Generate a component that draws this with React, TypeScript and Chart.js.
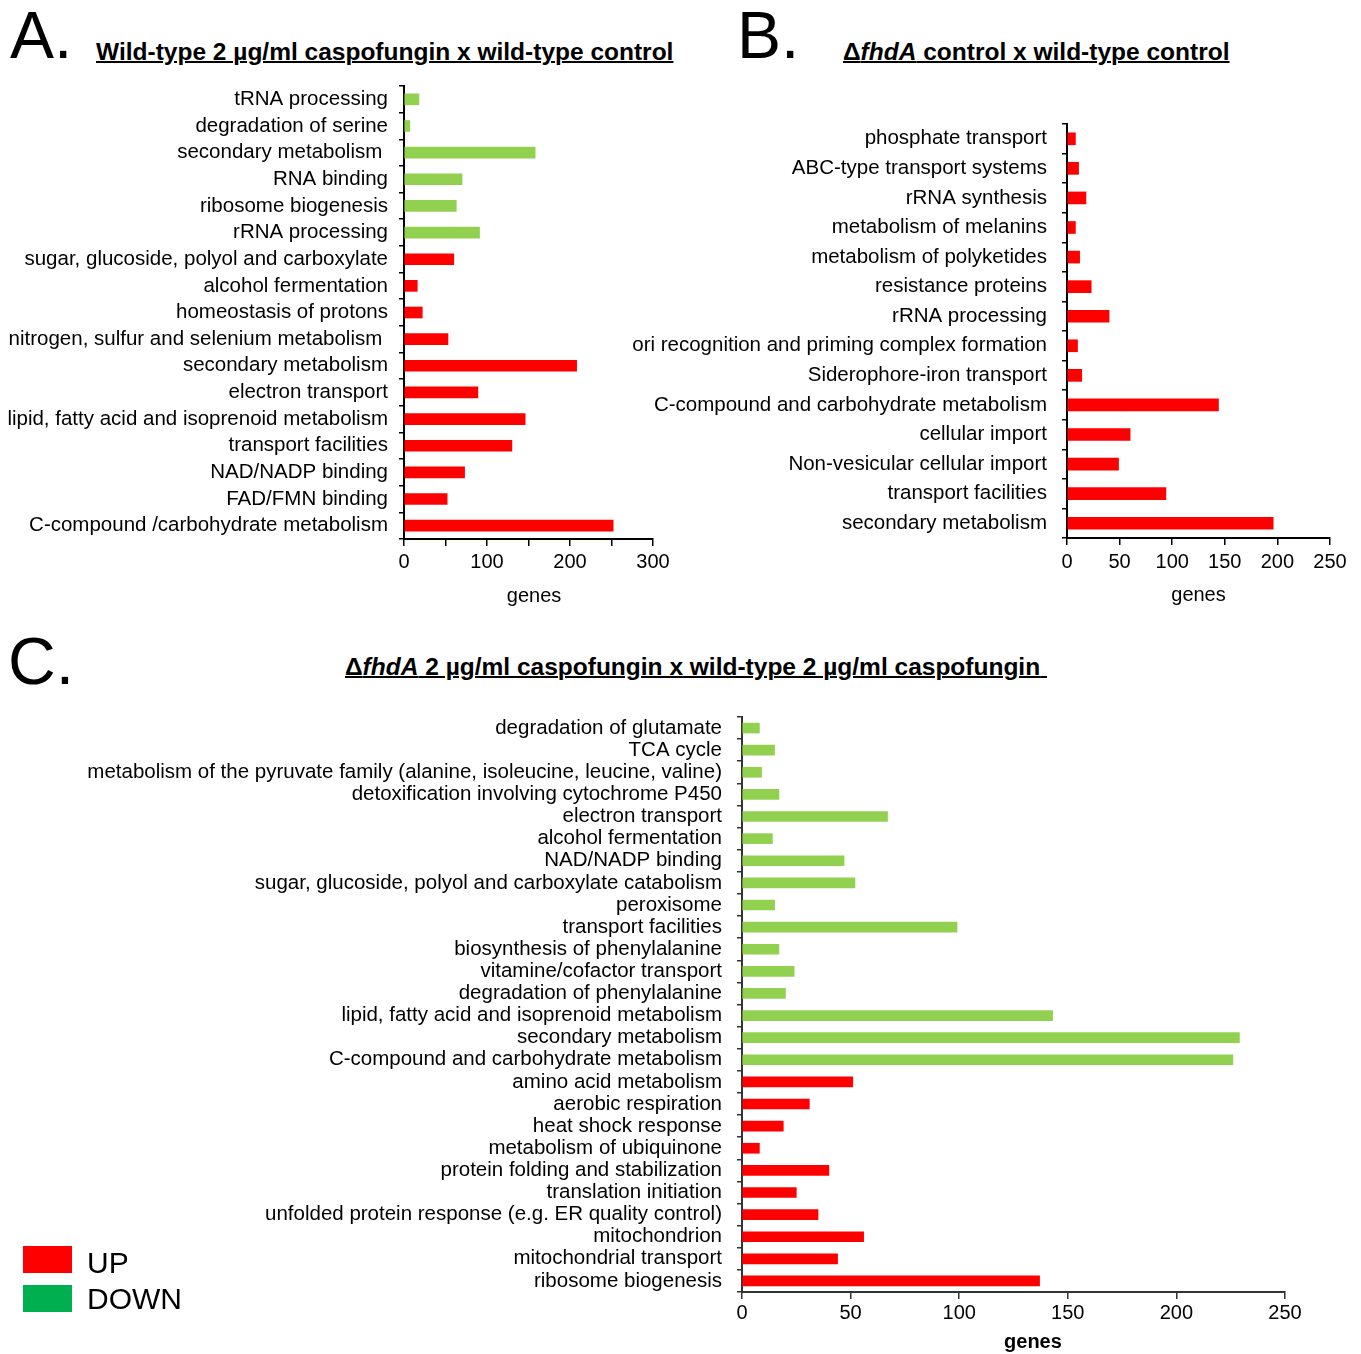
import React, { useEffect, useRef } from "react";
import { Chart, registerables } from "chart.js";

Chart.register(...registerables);

const FONT = "'Liberation Sans', Arial, Helvetica, sans-serif";
const RED = "#ff0000";
const GREEN = "#92d050";
const LEGEND_GREEN = "#00b050";

// ---------- Panel A: Wild-type 2 µg/ml caspofungin x wild-type control ----------
const categoriesA = [
  "tRNA processing",
  "degradation of serine",
  "secondary metabolism ",
  "RNA binding",
  "ribosome biogenesis",
  "rRNA processing",
  "sugar, glucoside, polyol and carboxylate",
  "alcohol fermentation",
  "homeostasis of protons",
  "nitrogen, sulfur and selenium metabolism ",
  "secondary metabolism",
  "electron transport",
  "lipid, fatty acid and isoprenoid metabolism",
  "transport facilities",
  "NAD/NADP binding",
  "FAD/FMN binding",
  "C-compound /carbohydrate metabolism",
];
const valuesA = [18, 7, 158, 70, 63, 91, 60, 16, 22, 53, 208, 89, 146, 130, 73, 52, 252];
const directionA = [
  "down", "down", "down", "down", "down", "down",
  "up", "up", "up", "up", "up", "up", "up", "up", "up", "up", "up",
];
const ticksA = [0, 100, 200, 300];

// ---------- Panel B: ΔfhdA control x wild-type control ----------
const categoriesB = [
  "phosphate transport",
  "ABC-type transport systems",
  "rRNA synthesis",
  "metabolism of melanins",
  "metabolism of polyketides",
  "resistance proteins",
  "rRNA processing",
  "ori recognition and priming complex formation",
  "Siderophore-iron transport",
  "C-compound and carbohydrate metabolism",
  "cellular import",
  "Non-vesicular cellular import",
  "transport facilities",
  "secondary metabolism",
];
const valuesB = [8, 11, 18, 8, 12, 23, 40, 10, 14, 144, 60, 49, 94, 196];
const directionB = [
  "up", "up", "up", "up", "up", "up", "up",
  "up", "up", "up", "up", "up", "up", "up",
];
const ticksB = [0, 50, 100, 150, 200, 250];

// ---------- Panel C: ΔfhdA 2 µg/ml caspofungin x wild-type 2 µg/ml caspofungin ----------
const categoriesC = [
  "degradation of glutamate",
  "TCA cycle",
  "metabolism of the pyruvate family (alanine, isoleucine, leucine, valine)",
  "detoxification involving cytochrome P450",
  "electron transport",
  "alcohol fermentation",
  "NAD/NADP binding",
  "sugar, glucoside, polyol and carboxylate catabolism",
  "peroxisome",
  "transport facilities",
  "biosynthesis of phenylalanine",
  "vitamine/cofactor transport",
  "degradation of phenylalanine",
  "lipid, fatty acid and isoprenoid metabolism",
  "secondary metabolism",
  "C-compound and carbohydrate metabolism",
  "amino acid metabolism",
  "aerobic respiration",
  "heat shock response",
  "metabolism of ubiquinone",
  "protein folding and stabilization",
  "translation initiation",
  "unfolded protein response (e.g. ER quality control)",
  "mitochondrion",
  "mitochondrial transport",
  "ribosome biogenesis",
];
const valuesC = [
  8, 15, 9, 17, 67, 14, 47, 52, 15, 99, 17, 24, 20, 143, 229, 226,
  51, 31, 19, 8, 40, 25, 35, 56, 44, 137,
];
const directionC = [
  "down", "down", "down", "down", "down", "down", "down", "down",
  "down", "down", "down", "down", "down", "down", "down", "down",
  "up", "up", "up", "up", "up", "up", "up", "up", "up", "up",
];
const ticksC = [0, 50, 100, 150, 200, 250];

const legendItems = [
  { label: "UP", color: RED },
  { label: "DOWN", color: LEGEND_GREEN },
];

type PanelProps = {
  categories: string[];
  values: number[];
  directions: string[];
  tickLabels: number[];
  left: number;
  top: number;
  width: number;
  height: number;
  yAxisWidth: number;
  xAxisHeight: number;
  padTop: number;
  padRight: number;
  xMax: number;
  xStep: number;
  barThickness: number;
  yFont: number;
  yPad: number;
  xPad: number;
  xTitle: string;
  titleBold: boolean;
  titlePadBottom: number;
  axisColor: string;
};

function BarPanel(p: PanelProps) {
  const ref = useRef<HTMLCanvasElement>(null);
  useEffect(() => {
    if (!ref.current) return;
    const chart = new Chart(ref.current, {
      type: "bar",
      data: {
        labels: p.categories,
        datasets: [
          {
            data: p.values,
            backgroundColor: p.directions.map((d) => (d === "up" ? RED : GREEN)),
            borderWidth: 0,
            barThickness: p.barThickness,
          },
        ],
      },
      options: {
        indexAxis: "y",
        responsive: false,
        animation: false,
        devicePixelRatio: 1,
        layout: { padding: { top: p.padTop, right: p.padRight, left: 0, bottom: 0 } },
        plugins: { legend: { display: false }, tooltip: { enabled: false } },
        scales: {
          y: {
            type: "category",
            offset: true,
            afterFit: (s: any) => {
              s.width = p.yAxisWidth;
              s.paddingTop = 0;
              s.paddingBottom = 0;
            },
            grid: {
              offset: true,
              drawOnChartArea: false,
              drawTicks: true,
              tickLength: 5,
              color: p.axisColor,
              lineWidth: 1.5,
            },
            border: { display: true, color: p.axisColor, width: 2 },
            ticks: {
              autoSkip: false,
              padding: p.yPad,
              color: "#000",
              font: { family: FONT, size: p.yFont },
            },
          },
          x: {
            type: "linear",
            min: 0,
            max: p.xMax,
            afterFit: (s: any) => {
              s.height = p.xAxisHeight;
            },
            grid: {
              drawOnChartArea: false,
              drawTicks: true,
              tickLength: 7,
              color: p.axisColor,
              lineWidth: 1.5,
            },
            border: { display: true, color: p.axisColor, width: 2 },
            ticks: {
              stepSize: p.xStep,
              padding: p.xPad,
              maxRotation: 0,
              color: "#000",
              font: { family: FONT, size: 20 },
              callback: (v: any) => (p.tickLabels.includes(Number(v)) ? String(v) : ""),
            },
            title: {
              display: true,
              text: p.xTitle,
              color: "#000",
              font: { family: FONT, size: 20, weight: p.titleBold ? "bold" : "normal" },
              padding: { top: 0, bottom: p.titlePadBottom },
            },
          },
        },
      },
    } as any);
    return () => chart.destroy();
  }, []);
  return (
    <canvas
      ref={ref}
      width={p.width}
      height={p.height}
      style={{ position: "absolute", left: p.left, top: p.top, width: p.width, height: p.height }}
    />
  );
}

function Text(props: {
  left: number;
  baseline: number;
  size: number;
  bold?: boolean;
  underline?: boolean;
  children: React.ReactNode;
}) {
  const { left, baseline, size, bold, underline, children } = props;
  return (
    <div
      style={{
        position: "absolute",
        left,
        top: baseline - 0.8465 * size,
        fontSize: size,
        lineHeight: `${size}px`,
        fontFamily: FONT,
        fontWeight: bold ? "bold" : "normal",
        textDecoration: underline ? "underline" : "none",
        textDecorationThickness: underline ? "2px" : undefined,
        whiteSpace: "pre",
        color: "#000",
      }}
    >
      {children}
    </div>
  );
}

export default function App() {
  return (
    <div
      style={{
        position: "absolute",
        left: 0,
        top: 0,
        width: 1361,
        height: 1354,
        overflow: "hidden",
        background: "#fff",
        fontFamily: FONT,
      }}
    >
      <Text left={10} baseline={58} size={66}>A.</Text>
      <Text left={737} baseline={58} size={66}>B.</Text>
      <Text left={8} baseline={684} size={66}>C.</Text>

      <Text left={96} baseline={61} size={24.5} bold underline>
        Wild-type 2 µg/ml caspofungin x wild-type control
      </Text>
      <Text left={843} baseline={61} size={24.5} bold underline>
        Δ<i>fhdA</i> control x wild-type control
      </Text>
      <Text left={345} baseline={676} size={24.5} bold underline>
        Δ<i>fhdA</i> 2 µg/ml caspofungin x wild-type 2 µg/ml caspofungin{" "}
      </Text>

      <BarPanel
        categories={categoriesA}
        values={valuesA}
        directions={directionA}
        tickLabels={ticksA}
        left={0}
        top={70}
        width={680}
        height={539}
        yAxisWidth={404}
        xAxisHeight={70}
        padTop={16}
        padRight={27}
        xMax={300}
        xStep={50}
        barThickness={11}
        yFont={20.5}
        yPad={11}
        xPad={4}
        xTitle={"  genes"}
        titleBold={false}
        titlePadBottom={1}
        axisColor="#000"
      />
      <BarPanel
        categories={categoriesB}
        values={valuesB}
        directions={directionB}
        tickLabels={ticksB}
        left={620}
        top={110}
        width={740}
        height={498}
        yAxisWidth={447}
        xAxisHeight={70}
        padTop={14}
        padRight={30}
        xMax={250}
        xStep={50}
        barThickness={12}
        yFont={20.5}
        yPad={15}
        xPad={5}
        xTitle={"genes"}
        titleBold={false}
        titlePadBottom={1}
        axisColor="#000"
      />
      <BarPanel
        categories={categoriesC}
        values={valuesC}
        directions={directionC}
        tickLabels={ticksC}
        left={0}
        top={700}
        width={1320}
        height={654}
        yAxisWidth={742}
        xAxisHeight={62}
        padTop={17}
        padRight={35}
        xMax={250}
        xStep={50}
        barThickness={10}
        yFont={20.5}
        yPad={15}
        xPad={2}
        xTitle={"       genes"}
        titleBold={true}
        titlePadBottom={0}
        axisColor="#333"
      />

      {legendItems.map((item, i) => (
        <React.Fragment key={item.label}>
          <div
            style={{
              position: "absolute",
              left: 23,
              top: 1246 + i * 39,
              width: 49,
              height: 27,
              background: item.color,
            }}
          />
          <Text left={87} baseline={1273 + i * 36} size={30}>
            {item.label}
          </Text>
        </React.Fragment>
      ))}
    </div>
  );
}
